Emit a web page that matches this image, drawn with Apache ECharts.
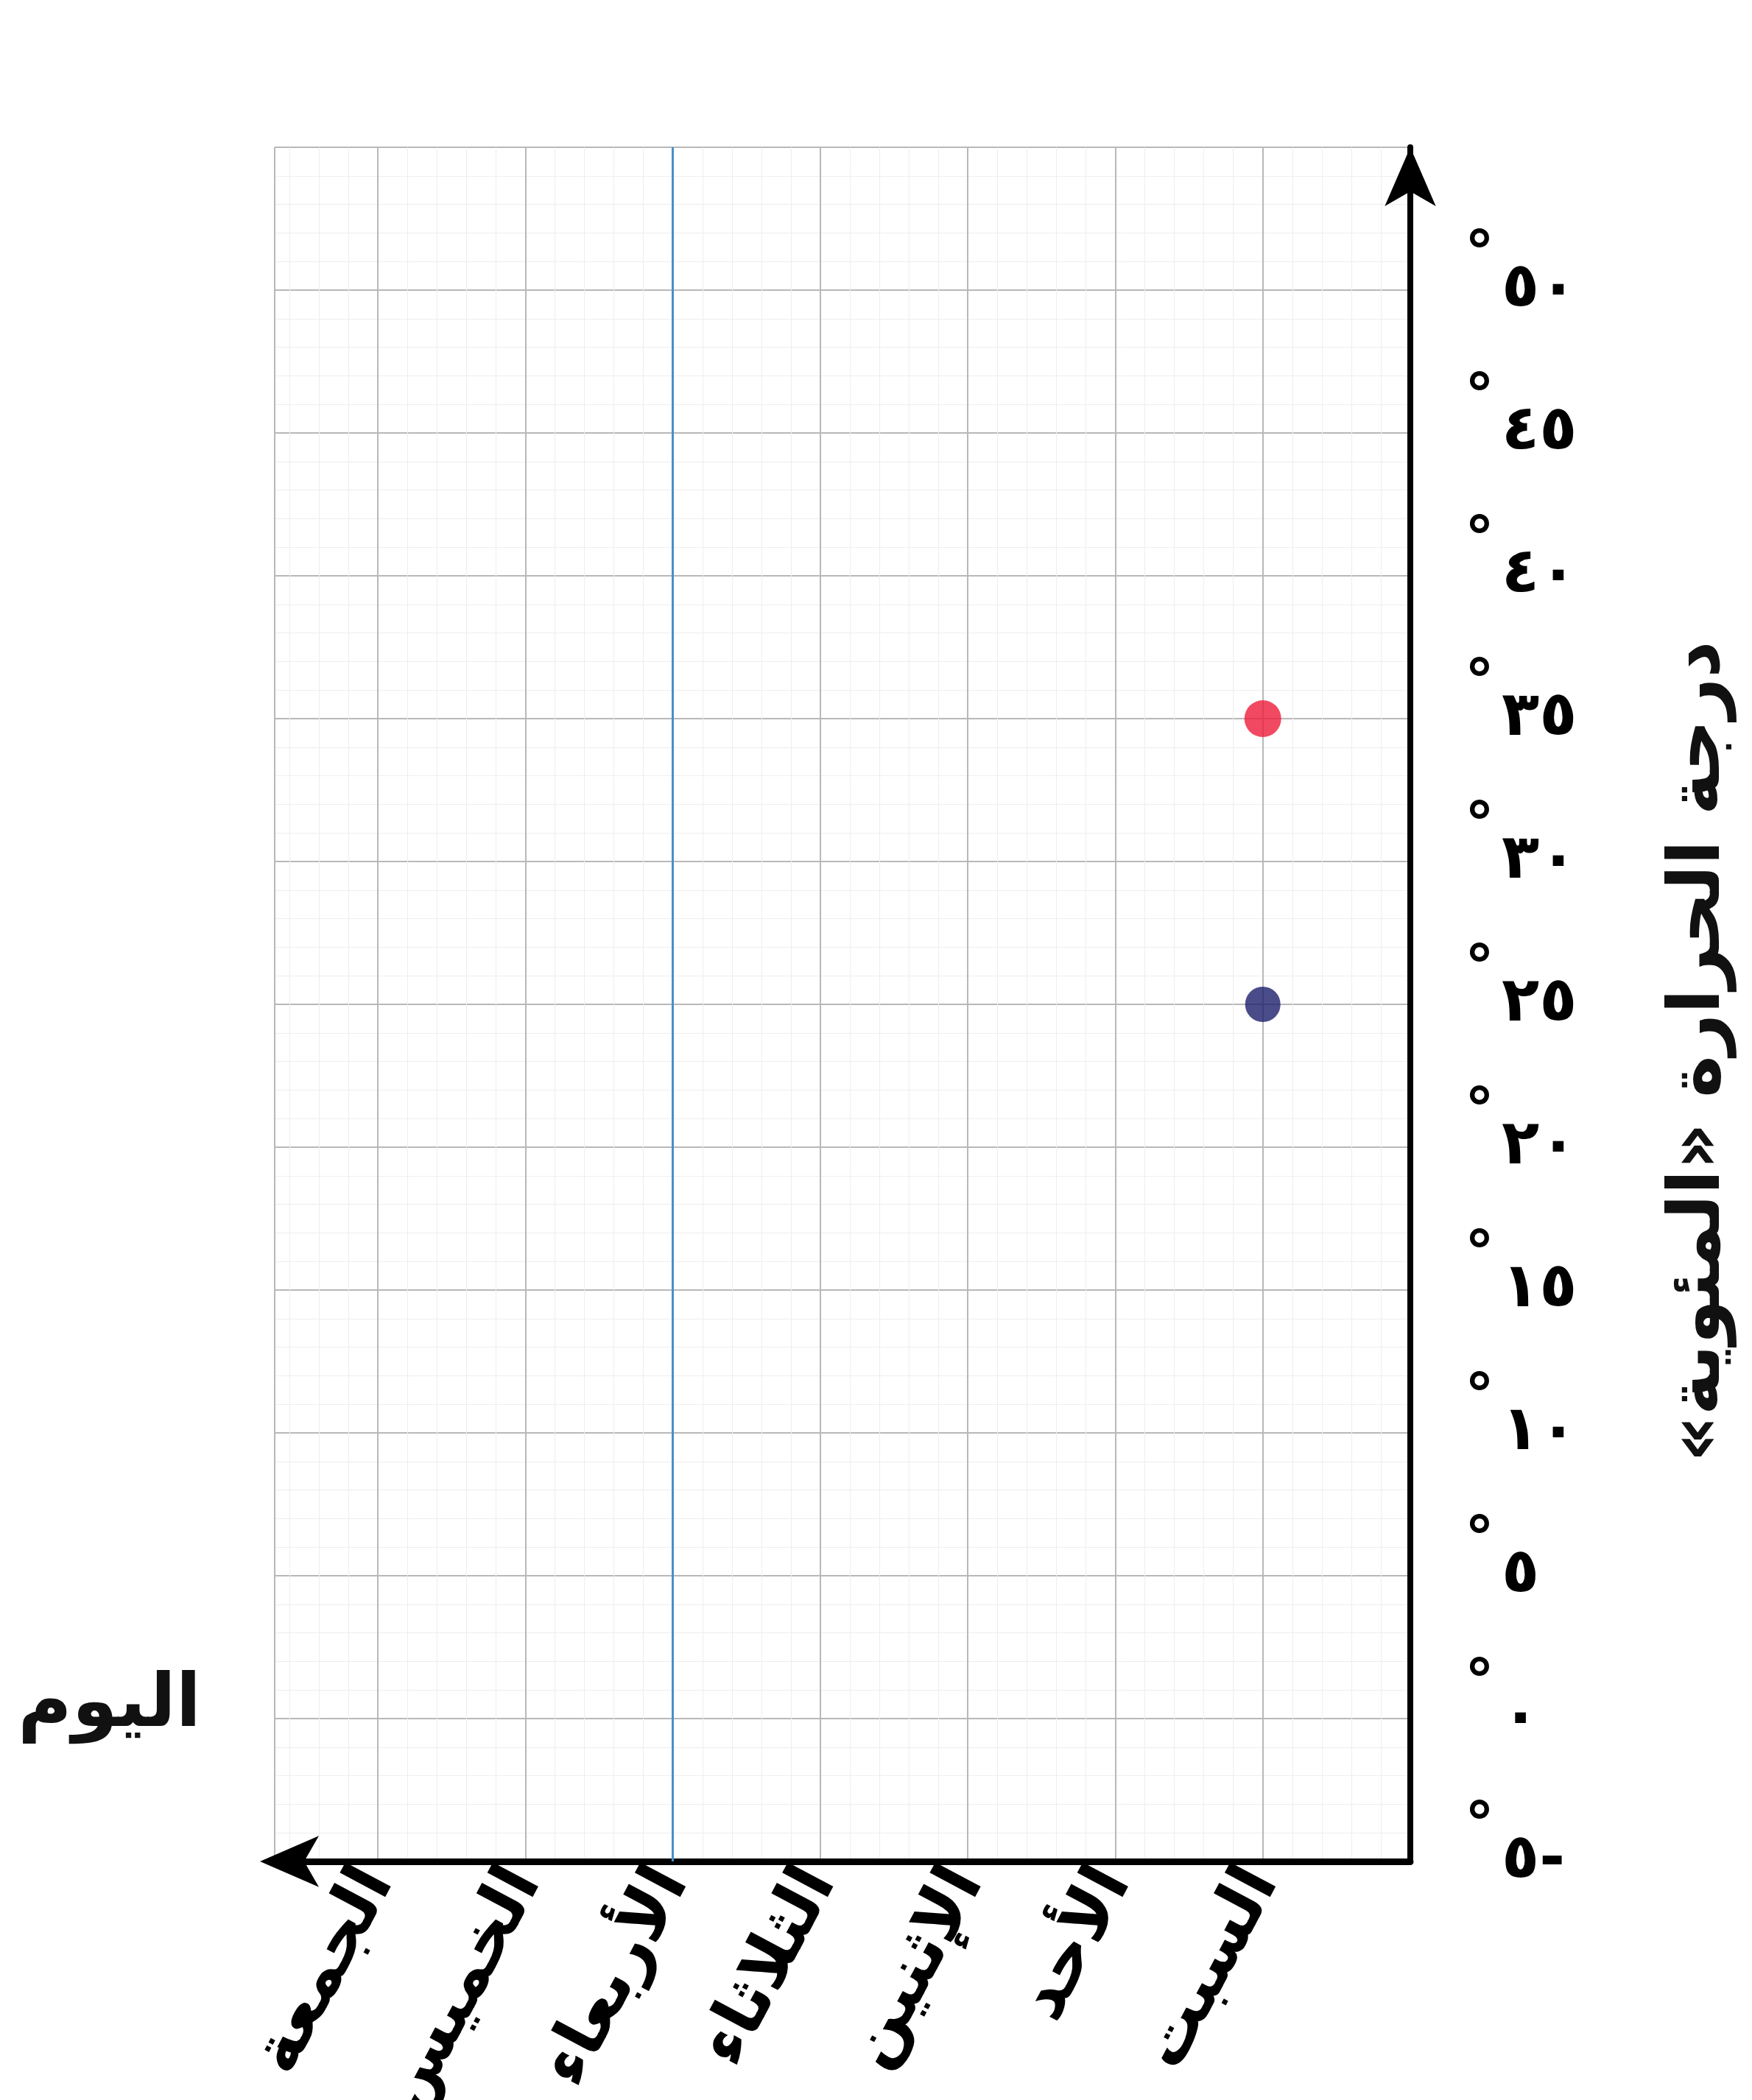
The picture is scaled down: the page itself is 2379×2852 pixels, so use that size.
<!DOCTYPE html>
<html>
<head>
<meta charset="utf-8">
<script src="https://cdn.jsdelivr.net/npm/echarts@6/dist/echarts.min.js"></script>
<style>
    html, body { margin: 0; background: #fff; }
    #chart { width: 2379px; height: 2852px; }
</style>
</head>
<body>
<div id="chart"></div>
<script>
// days, right to left starting at the temperature axis
var days = ['السبت', 'الأحد', 'الإثنين', 'الثلاثاء', 'الأربعاء', 'الخميس', 'الجمعة'];
var maxTemp = [35, null, null, null, null, null, null];
var minTemp = [25, null, null, null, null, null, null];
var tempTicks = [-5, 0, 5, 10, 15, 20, 25, 30, 35, 40, 45, 50];
var tempTickText = ['\u200F-٥', '٠', '٥', '١٠', '١٥', '٢٠', '٢٥', '٣٠', '٣٥', '٤٠', '٤٥', '٥٠'];
var markedDay = 'الأربعاء';
var dayAxisName = 'اليوم';
var tempAxisName = 'درجة الحرارة «المئوية»';

var font = 'DejaVu Sans';
var RLM = '\u200F';

function toPoints(values) {
    var out = [];
    values.forEach(function (v, i) {
        if (v !== null) out.push([-(i + 1), v]);
    });
    return out;
}

var chart = echarts.init(document.getElementById('chart'));

var option = {
    animation: false,
    backgroundColor: '#fff',
    grid: {left: 373, right: 464, top: 200, bottom: 324, outerBoundsMode: 'none'},
    xAxis: {
        type: 'value',
        min: -7.7,
        max: 0,
        minInterval: 1,
        maxInterval: 1,
        name: dayAxisName,
        nameLocation: 'start',
        nameGap: 100,
        nameTextStyle: {
            fontFamily: font, fontSize: 100, fontWeight: 'bold', color: '#111',
            verticalAlign: 'bottom', padding: [0, 0, 160, 0]
        },
        axisLine: {
            onZero: false,
            symbol: ['arrow', 'none'],
            symbolSize: [52, 80],
            symbolOffset: [-20, 0],
            lineStyle: {color: '#000', width: 9}
        },
        axisTick: {show: false},
        axisLabel: {
            rotate: 62,
            margin: 16,
            fontFamily: font, fontSize: 92, fontWeight: 'bold', color: '#000',
            formatter: function (v) {
                var i = Math.round(-v) - 1;
                if (Math.abs(v - Math.round(v)) > 1e-6 || i < 0 || i >= days.length) return '';
                return days[i];
            }
        },
        splitLine: {show: true, lineStyle: {color: '#b8b8b8', width: 2}},
        minorTick: {show: false, splitNumber: 5},
        minorSplitLine: {show: true, lineStyle: {color: '#eeeeee', width: 1}}
    },
    yAxis: {
        type: 'value',
        position: 'right',
        min: -5,
        max: 55,
        interval: 5,
        name: RLM + tempAxisName + RLM,
        nameLocation: 'middle',
        nameRotate: 90,
        nameGap: 345,
        nameTextStyle: {
            fontFamily: font, fontSize: 98, fontWeight: 'bold', color: '#111',
            padding: [0, 128, 0, 0]
        },
        axisLine: {
            onZero: false,
            symbol: ['none', 'arrow'],
            symbolSize: [52, 80],
            lineStyle: {color: '#000', width: 8}
        },
        axisTick: {show: false},
        axisLabel: {
            margin: 74,
            formatter: function (v) {
                var i = tempTicks.indexOf(v);
                if (i < 0) return '';
                return '{d|°}{n|' + tempTickText[i] + '}';
            },
            rich: {
                d: {fontFamily: font, fontSize: 80, fontWeight: 'bold', color: '#000', padding: [0, 10, 90, 0]},
                n: {fontFamily: font, fontSize: 84, fontWeight: 'bold', color: '#000'}
            }
        },
        splitLine: {show: true, lineStyle: {color: '#b8b8b8', width: 2}},
        minorTick: {show: false, splitNumber: 5},
        minorSplitLine: {show: true, lineStyle: {color: '#eeeeee', width: 1}}
    },
    series: [
        {
            name: 'العظمى',
            type: 'scatter',
            data: toPoints(maxTemp),
            symbolSize: 50,
            itemStyle: {color: '#ee1c3a'},
            markLine: {
                silent: true,
                symbol: 'none',
                label: {show: false},
                lineStyle: {color: '#4a90c8', width: 3, type: 'solid'},
                data: [{xAxis: -(days.indexOf(markedDay) + 1)}]
            }
        },
        {
            name: 'الصغرى',
            type: 'scatter',
            data: toPoints(minTemp),
            symbolSize: 48,
            itemStyle: {color: '#1b1f6b'}
        }
    ]
};

chart.setOption(option);
</script>
</body>
</html>
